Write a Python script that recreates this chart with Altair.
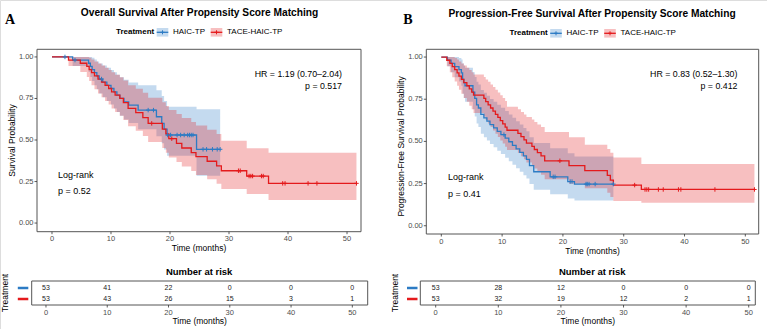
import altair as alt
import pandas as pd

FONT = "Liberation Sans"
BLUE = "#2C7BC4"
RED = "#E41A1C"
GROUPS = ["HAIC-TP", "TACE-HAIC-TP"]
COLORS = [BLUE, RED]
BAND_OPACITY = 0.28
CROSS = "M-1,0H1M0,-1V1"
FRAME = "#555555"
TICK = "#333333"
TICKLAB = "#4D4D4D"
W, H = 767, 329

x_ticks = [0, 10, 20, 30, 40, 50]
y_ticks = [0.0, 0.25, 0.50, 0.75, 1.0]
y_tick_labels = ["0.00", "0.25", "0.50", "0.75", "1.00"]
risk_times = [0, 10, 20, 30, 40, 50]

# ---------------- Overall survival ----------------
os_haic_t = [0, 3.5, 6.2, 6.5, 6.8, 7.2, 7.6, 8.0, 8.6, 9.3, 10.0, 10.5, 11.0, 11.5, 12.2, 13.0, 14.6, 17.7, 18.6, 19.0, 19.5, 24.5]
os_haic_s = [1.0, 0.981, 0.962, 0.943, 0.924, 0.905, 0.886, 0.867, 0.848, 0.829, 0.810, 0.790, 0.770, 0.750, 0.730, 0.710, 0.680, 0.640, 0.600, 0.565, 0.530, 0.444]
os_haic_lo = [1.0, 0.945, 0.910, 0.880, 0.855, 0.830, 0.805, 0.780, 0.757, 0.735, 0.713, 0.690, 0.668, 0.646, 0.624, 0.602, 0.565, 0.522, 0.480, 0.443, 0.405, 0.285]
os_haic_hi = [1.0, 1.0, 1.0, 1.0, 0.995, 0.985, 0.972, 0.960, 0.948, 0.935, 0.922, 0.908, 0.893, 0.878, 0.862, 0.846, 0.830, 0.800, 0.765, 0.735, 0.700, 0.685]
os_haic_end = 28.5
os_haic_cens = [2.2, 3.9, 8.4, 16.3, 17.2, 19.6, 20.1, 21.2, 21.8, 22.4, 23.0, 23.3, 23.6, 23.9, 25.6, 26.2, 27.2, 28.0, 28.5]

os_tace_t = [0, 2.8, 4.8, 5.9, 6.3, 6.7, 7.2, 7.8, 8.4, 9.0, 9.6, 10.1, 10.7, 11.5, 12.1, 12.9, 14.2, 15.4, 16.3, 18.7, 19.3, 19.8, 21.1, 22.0, 23.6, 24.4, 26.3, 27.9, 28.7, 33.0, 36.7]
os_tace_s = [1.0, 0.981, 0.962, 0.943, 0.924, 0.905, 0.886, 0.867, 0.848, 0.829, 0.810, 0.790, 0.770, 0.750, 0.725, 0.690, 0.665, 0.635, 0.600, 0.565, 0.537, 0.508, 0.480, 0.452, 0.424, 0.400, 0.372, 0.344, 0.315, 0.283, 0.239]
os_tace_lo = [1.0, 0.945, 0.910, 0.880, 0.855, 0.830, 0.805, 0.780, 0.757, 0.735, 0.713, 0.690, 0.668, 0.646, 0.620, 0.583, 0.556, 0.524, 0.488, 0.452, 0.424, 0.395, 0.367, 0.340, 0.313, 0.290, 0.263, 0.237, 0.205, 0.175, 0.139]
os_tace_hi = [1.0, 1.0, 1.0, 1.0, 0.995, 0.985, 0.972, 0.960, 0.948, 0.935, 0.922, 0.908, 0.893, 0.878, 0.858, 0.829, 0.809, 0.785, 0.755, 0.728, 0.705, 0.680, 0.656, 0.632, 0.608, 0.588, 0.562, 0.536, 0.495, 0.450, 0.424]
os_tace_end = 51.6
os_tace_cens = [16.9, 20.3, 31.6, 31.9, 33.4, 33.7, 34.0, 35.5, 35.8, 39.1, 39.5, 43.4, 44.9, 51.6]

os_risk_haic = [53, 41, 22, 0, 0, 0]
os_risk_tace = [53, 43, 26, 15, 3, 1]

# ---------------- Progression-free survival ----------------
pfs_haic_t = [0, 1.0, 1.6, 2.2, 2.9, 3.3, 3.5, 3.7, 3.9, 5.2, 5.5, 5.8, 6.1, 6.5, 7.0, 7.5, 8.0, 8.6, 9.2, 9.8, 10.5, 11.1, 11.7, 12.3, 12.9, 13.5, 14.0, 14.5, 15.2, 17.9, 20.8, 21.9]
pfs_haic_s = [1.0, 0.981, 0.962, 0.943, 0.925, 0.906, 0.868, 0.849, 0.830, 0.792, 0.755, 0.717, 0.698, 0.660, 0.640, 0.620, 0.600, 0.580, 0.560, 0.540, 0.519, 0.498, 0.477, 0.456, 0.435, 0.414, 0.393, 0.356, 0.320, 0.290, 0.262, 0.247]
pfs_haic_lo = [1.0, 0.945, 0.910, 0.880, 0.855, 0.830, 0.782, 0.758, 0.735, 0.690, 0.648, 0.606, 0.585, 0.545, 0.525, 0.505, 0.485, 0.465, 0.445, 0.425, 0.403, 0.382, 0.362, 0.341, 0.320, 0.300, 0.280, 0.247, 0.213, 0.186, 0.162, 0.150]
pfs_haic_hi = [1.0, 1.0, 1.0, 1.0, 0.995, 0.985, 0.962, 0.950, 0.937, 0.910, 0.882, 0.853, 0.838, 0.805, 0.788, 0.770, 0.752, 0.735, 0.717, 0.700, 0.680, 0.660, 0.640, 0.620, 0.600, 0.580, 0.560, 0.525, 0.490, 0.460, 0.430, 0.410]
pfs_haic_end = 28.3
pfs_haic_cens = [10.3, 18.4, 18.7, 21.2, 21.5, 23.8, 24.0, 24.3, 25.3, 28.3]

pfs_tace_t = [0, 0.9, 1.4, 1.8, 2.2, 2.6, 2.9, 3.3, 3.7, 4.2, 4.6, 5.0, 5.3, 7.0, 7.3, 7.7, 8.1, 8.5, 8.9, 9.3, 9.7, 10.1, 10.5, 10.8, 12.6, 13.1, 13.6, 14.0, 14.9, 15.3, 15.8, 16.4, 17.0, 21.0, 23.6, 27.3, 27.8, 28.3, 32.9]
pfs_tace_s = [1.0, 0.981, 0.962, 0.943, 0.925, 0.906, 0.887, 0.868, 0.849, 0.830, 0.811, 0.792, 0.774, 0.755, 0.736, 0.717, 0.698, 0.679, 0.660, 0.642, 0.623, 0.604, 0.585, 0.566, 0.547, 0.528, 0.509, 0.490, 0.471, 0.452, 0.433, 0.414, 0.385, 0.356, 0.327, 0.298, 0.270, 0.241, 0.215]
pfs_tace_lo = [1.0, 0.945, 0.910, 0.880, 0.855, 0.830, 0.806, 0.782, 0.758, 0.735, 0.712, 0.690, 0.669, 0.648, 0.627, 0.606, 0.585, 0.565, 0.545, 0.526, 0.506, 0.487, 0.468, 0.449, 0.431, 0.412, 0.394, 0.375, 0.357, 0.339, 0.321, 0.303, 0.276, 0.249, 0.222, 0.196, 0.171, 0.146, 0.136]
pfs_tace_hi = [1.0, 1.0, 1.0, 1.0, 0.995, 0.985, 0.974, 0.962, 0.950, 0.937, 0.924, 0.910, 0.896, 0.882, 0.867, 0.853, 0.838, 0.822, 0.806, 0.790, 0.774, 0.757, 0.740, 0.705, 0.690, 0.675, 0.660, 0.645, 0.630, 0.615, 0.600, 0.585, 0.555, 0.525, 0.480, 0.455, 0.432, 0.405, 0.366]
pfs_tace_end = 51.5
pfs_tace_cens = [19.5, 31.8, 33.5, 33.8, 34.1, 35.7, 36.5, 39.0, 39.4, 45.0, 51.5]

pfs_risk_haic = [53, 28, 12, 0, 0, 0]
pfs_risk_tace = [53, 32, 19, 12, 2, 1]

TITLE_OS = "Overall Survival After Propensity Score Matching"
TITLE_PFS = "Progression-Free Survival After Propensity Score Matching"
OS_HR = ["HR = 1.19 (0.70\u20132.04)", "p = 0.517"]
OS_LR = ["Log-rank", "p = 0.52"]
PFS_HR = ["HR = 0.83 (0.52\u20131.30)", "p = 0.412"]
PFS_LR = ["Log-rank", "p = 0.41"]


def curve_df(t, s, lo, hi, end, group):
    rows = [dict(t=a, s=b, lo=c, hi=d, group=group) for a, b, c, d in zip(t, s, lo, hi)]
    rows.append(dict(t=end, s=s[-1], lo=lo[-1], hi=hi[-1], group=group))
    return pd.DataFrame(rows)


def cens_df(cens, t, s, group):
    rows = []
    for c in cens:
        val = s[0]
        for a, b in zip(t, s):
            if a <= c:
                val = b
        rows.append(dict(t=c, s=val, group=group))
    return pd.DataFrame(rows)


def txt(df, **style):
    base = dict(font=FONT, color="black")
    base.update(style)
    return alt.Chart(df).mark_text(**base)


def x_axis_marks(xs, ybot, title, title_x, title_y):
    tdf = pd.DataFrame({"v": x_ticks, "lab": [str(v) for v in x_ticks]})
    X = alt.X("v:Q", scale=xs, axis=None)
    rules = alt.Chart(tdf).mark_rule(color=TICK, strokeWidth=0.8).encode(
        x=X, y=alt.value(ybot), y2=alt.value(ybot + 2.5))
    labels = txt(tdf, fontSize=7.5, color=TICKLAB, baseline="top", align="center").encode(
        x=X, y=alt.value(ybot + 3.5), text="lab:N")
    ttl = txt(pd.DataFrame({"v": [title_x], "lab": [title]}), fontSize=8.5,
              baseline="middle", align="center").encode(x=X, y=alt.value(title_y), text="lab:N")
    return [rules, labels, ttl]


def km_panel(curves, censors, xdom, xrng, ydom, yrng, ytitle, ytitle_x, ytitle_v,
             hr_lines, hr_x, hr_y, lr_lines, lr_x, lr_y):
    xs = alt.Scale(domain=xdom, range=xrng, nice=False, zero=False)
    ys = alt.Scale(domain=ydom, range=yrng, nice=False, zero=False)
    cs = alt.Scale(domain=GROUPS, range=COLORS)
    X = lambda f: alt.X(f, scale=xs, axis=None)
    Y = lambda f: alt.Y(f, scale=ys, axis=None)
    col = alt.Color("group:N", scale=cs, legend=None)
    xleft, ybot = xrng[0], yrng[0]

    band = alt.Chart(curves).mark_area(interpolate="step-after", fillOpacity=BAND_OPACITY).encode(
        x=X("t:Q"), y=Y("lo:Q"), y2="hi:Q", color=col)
    line = alt.Chart(curves).mark_line(interpolate="step-after", strokeWidth=1.3).encode(
        x=X("t:Q"), y=Y("s:Q"), color=col)
    pts = alt.Chart(censors).mark_point(shape=CROSS, filled=False, size=20,
                                        strokeWidth=1, opacity=1).encode(
        x=X("t:Q"), y=Y("s:Q"), color=col)
    hr = txt(pd.DataFrame({"x": [hr_x] * 2, "y": hr_y, "label": hr_lines}),
             align="right", baseline="middle", fontSize=8.8).encode(
        x=X("x:Q"), y=Y("y:Q"), text="label:N")
    lr = txt(pd.DataFrame({"x": [lr_x] * 2, "y": lr_y, "label": lr_lines}),
             align="left", baseline="middle", fontSize=9).encode(
        x=X("x:Q"), y=Y("y:Q"), text="label:N")
    frame = pd.DataFrame({"x0": [xdom[0]], "x1": [xdom[1]], "y0": [ydom[0]], "y1": [ydom[1]]})
    frame_layer = alt.Chart(frame).mark_rect(fillOpacity=0, stroke=FRAME, strokeWidth=1).encode(
        x=X("x0:Q"), x2="x1:Q", y=Y("y0:Q"), y2="y1:Q")

    ydf = pd.DataFrame({"v": y_ticks, "lab": y_tick_labels})
    yrules = alt.Chart(ydf).mark_rule(color=TICK, strokeWidth=0.8).encode(
        y=Y("v:Q"), x=alt.value(xleft - 2.5), x2=alt.value(xleft))
    ylabels = txt(ydf, fontSize=7.5, color=TICKLAB, align="right", baseline="middle").encode(
        y=Y("v:Q"), x=alt.value(xleft - 3.5), text="lab:N")
    ytl = txt(pd.DataFrame({"v": [ytitle_v], "lab": [ytitle]}), fontSize=8.5, angle=270,
              align="center", baseline="middle").encode(
        y=Y("v:Q"), x=alt.value(ytitle_x), text="lab:N")
    xa = x_axis_marks(xs, ybot, "Time (months)", (xdom[0] + xdom[1]) / 2, ybot + 16.5)
    return alt.layer(band, line, pts, hr, lr, frame_layer, yrules, ylabels, ytl, *xa)


def risk_panel(n_haic, n_tace, xdom, xrng, dash_x, ttl_x):
    ydom = [0.364, 2.545]
    yrng = [281, 305]
    xs = alt.Scale(domain=xdom, range=xrng, nice=False, zero=False)
    ys = alt.Scale(domain=ydom, range=yrng, nice=False, zero=False)
    cs = alt.Scale(domain=GROUPS, range=COLORS)
    X = lambda f: alt.X(f, scale=xs, axis=None)
    Y = lambda f: alt.Y(f, scale=ys, axis=None)
    df = pd.DataFrame({"t": risk_times * 2, "row": [1] * 6 + [2] * 6, "n": n_haic + n_tace})
    rows = pd.DataFrame({"row": [1, 2], "group": GROUPS})
    nums = txt(df, fontSize=7, color="#1A1A1A", baseline="middle", align="center").encode(
        x=X("t:Q"), y=Y("row:Q"), text="n:Q")
    head = txt(pd.DataFrame({"t": [25], "label": ["Number at risk"]}), fontSize=9.5,
               fontWeight="bold", baseline="middle", align="center").encode(
        x=X("t:Q"), y=alt.value(271.7), text="label:N")
    frame = pd.DataFrame({"x0": [xdom[0]], "x1": [xdom[1]], "y0": [ydom[0]], "y1": [ydom[1]]})
    frame_layer = alt.Chart(frame).mark_rect(fillOpacity=0, stroke=FRAME, strokeWidth=1).encode(
        x=X("x0:Q"), x2="x1:Q", y=Y("y0:Q"), y2="y1:Q")
    dashes = alt.Chart(rows).mark_rule(strokeWidth=2.5).encode(
        y=Y("row:Q"), x=alt.value(dash_x), x2=alt.value(dash_x + 10.5),
        color=alt.Color("group:N", scale=cs, legend=None))
    ttl = txt(pd.DataFrame({"v": [(ydom[0] + ydom[1]) / 2], "lab": ["Treatment"]}), fontSize=8.5,
              angle=270, align="center", baseline="middle").encode(
        y=Y("v:Q"), x=alt.value(ttl_x), text="lab:N")
    xa = x_axis_marks(xs, yrng[1], "Time (months)", (xdom[0] + xdom[1]) / 2, 321)
    return alt.layer(nums, head, frame_layer, dashes, ttl, *xa)


def text(x, y, label, **style):
    return alt.Chart(pd.DataFrame({"label": [label]})).mark_text(**style).encode(
        x=alt.value(x), y=alt.value(y), text="label:N")


def legend(dx, y):
    parts = [text(116 + dx, y, "Treatment", font=FONT, fontSize=8, fontWeight="bold",
                  align="left", baseline="middle", color="black")]
    keys = [(156.7, BLUE, "HAIC-TP", 173), (210.7, RED, "TACE-HAIC-TP", 227)]
    one = pd.DataFrame({"k": [0]})
    for kx, c, lab, lx in keys:
        parts.append(alt.Chart(one).mark_rect(fill=c, fillOpacity=BAND_OPACITY).encode(
            x=alt.value(kx + dx), x2=alt.value(kx + dx + 11.6), y=alt.value(y - 4.3), y2=alt.value(y + 4.3)))
        parts.append(alt.Chart(one).mark_rule(color=c, strokeWidth=1.3).encode(
            x=alt.value(kx + dx), x2=alt.value(kx + dx + 11.6), y=alt.value(y)))
        parts.append(alt.Chart(one).mark_point(shape=CROSS, filled=False, size=16, strokeWidth=1,
                                               color=c, opacity=1).encode(
            x=alt.value(kx + dx + 5.8), y=alt.value(y)))
        parts.append(text(lx + dx, y, lab, font=FONT, fontSize=8, align="left",
                          baseline="middle", color="black"))
    return parts


os_curves = pd.concat([curve_df(os_haic_t, os_haic_s, os_haic_lo, os_haic_hi, os_haic_end, GROUPS[0]),
                       curve_df(os_tace_t, os_tace_s, os_tace_lo, os_tace_hi, os_tace_end, GROUPS[1])])
os_cens = pd.concat([cens_df(os_haic_cens, os_haic_t, os_haic_s, GROUPS[0]),
                     cens_df(os_tace_cens, os_tace_t, os_tace_s, GROUPS[1])])
pfs_curves = pd.concat([curve_df(pfs_haic_t, pfs_haic_s, pfs_haic_lo, pfs_haic_hi, pfs_haic_end, GROUPS[0]),
                        curve_df(pfs_tace_t, pfs_tace_s, pfs_tace_lo, pfs_tace_hi, pfs_tace_end, GROUPS[1])])
pfs_cens = pd.concat([cens_df(pfs_haic_cens, pfs_haic_t, pfs_haic_s, GROUPS[0]),
                      cens_df(pfs_tace_cens, pfs_tace_t, pfs_tace_s, GROUPS[1])])

km_a = km_panel(os_curves, os_cens, [-2.54, 52.37], [37, 361], [-0.052, 1.046], [231.7, 49.3],
                "Survival Probability", 12.3, 0.497,
                OS_HR, 49.15, [0.896, 0.827], OS_LR, 1.0, [0.289, 0.193])
km_b = km_panel(pfs_curves, pfs_cens, [-2.47, 52.2], [426.3, 758.7], [-0.049, 1.046], [234, 49.3],
                "Progression-Free Survival Probability", 401.3, 0.47,
                PFS_HR, 48.7, [0.897, 0.83], PFS_LR, 1.1, [0.29, 0.188])
risk_a = risk_panel(os_risk_haic, os_risk_tace, [-2.33, 52.51], [31.7, 367.7], 17.8, 5.3)
risk_b = risk_panel(pfs_risk_haic, pfs_risk_tace, [-2.46, 51.05], [420.3, 755.3], 407, 394.7)

deco = [
    text(199.5, 12.5, TITLE_OS, font=FONT, fontSize=10.2, fontWeight="bold", color="black",
         align="center", baseline="middle"),
    text(592, 14, TITLE_PFS, font=FONT, fontSize=10.2, fontWeight="bold", color="black",
         align="center", baseline="middle"),
    text(10, 20, "A", font="Liberation Serif", fontSize=14, fontWeight="bold", color="black",
         align="center", baseline="middle"),
    text(408, 19.5, "B", font="Liberation Serif", fontSize=14, fontWeight="bold", color="black",
         align="center", baseline="middle"),
] + legend(0, 32.3) + legend(393.5, 33.3)

chart = alt.layer(km_a, risk_a, km_b, risk_b, *deco).resolve_scale(
    x="independent", y="independent").properties(
    width=W, height=H, autosize=alt.AutoSizeParams(type="none"), padding=0
).configure_view(strokeWidth=0).configure(font=FONT)

chart.save("out.html", embed_options={"renderer": "svg", "actions": False})
